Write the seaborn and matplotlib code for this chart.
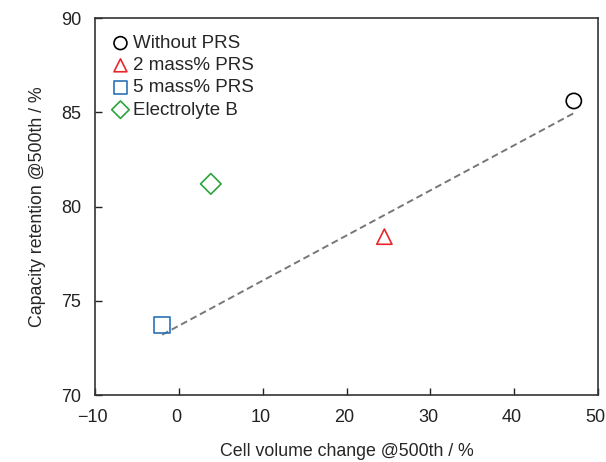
import matplotlib
matplotlib.use("Agg")
import matplotlib.pyplot as plt
import matplotlib.transforms as mtransforms
import seaborn as sns
import pandas as pd

sns.set_theme(style="ticks")
plt.rcParams['font.family'] = ['Liberation Sans', 'DejaVu Sans']

labels = ["Without PRS", "2 mass% PRS", "5 mass% PRS", "Electrolyte B"]
volume_change = [47.1, 24.5, -2.0, 3.8]
retention = [85.6, 78.4, 73.7, 81.2]
markers = ["o", "^", "s", "D"]
colors = ["#000000", "#e8262a", "#2a73b8", "#2ca43c"]
sizes = [120, 120, 130, 110]

trend_x = [-2.0, 47.3]
trend_y = [73.2, 85.0]

fig = plt.figure(figsize=(6.06, 4.62), dpi=100)
ax = fig.add_axes([0.157, 0.145, 0.830, 0.816])

df_trend = pd.DataFrame({"x": trend_x, "y": trend_y})
sns.lineplot(data=df_trend, x="x", y="y", ax=ax, color="#777777",
             linestyle=(0, (3.5, 2)), linewidth=1.4, zorder=1)

for lab, xv, yv, m, c, s in zip(labels, volume_change, retention, markers, colors, sizes):
    d = pd.DataFrame({"x": [xv], "y": [yv]})
    sns.scatterplot(data=d, x="x", y="y", ax=ax, marker=m, s=s,
                    facecolors="none", edgecolors=c, linewidths=1.2,
                    label=lab, zorder=3)

ax.set_xlim(-10, 50)
ax.set_ylim(70, 90)
ax.set_xticks([-10, 0, 10, 20, 30, 40, 50])
ax.set_yticks([70, 75, 80, 85, 90])
ax.set_xlabel("Cell volume change @500th / %", fontsize=12.8, labelpad=12)
ax.set_ylabel("Capacity retention @500th / %", fontsize=12.8, labelpad=11)
ax.tick_params(direction="in", length=5, width=1, labelsize=13, pad=10, colors="#222222")
for sp in ax.spines.values():
    sp.set_linewidth(1.2)
    sp.set_color("#333333")

offset = mtransforms.ScaledTranslation(-2.5 / 100, 0, fig.dpi_scale_trans)
for lbl in ax.get_xticklabels():
    lbl.set_transform(lbl.get_transform() + offset)

leg = ax.legend(loc="upper left", bbox_to_anchor=(0.0, 0.99), frameon=False,
                fontsize=13.5, handletextpad=0.0, borderpad=0.5, labelspacing=0.27,
                handlelength=1.3, borderaxespad=0.2, markerscale=0.85)

fig.savefig("out.png", dpi=100)
